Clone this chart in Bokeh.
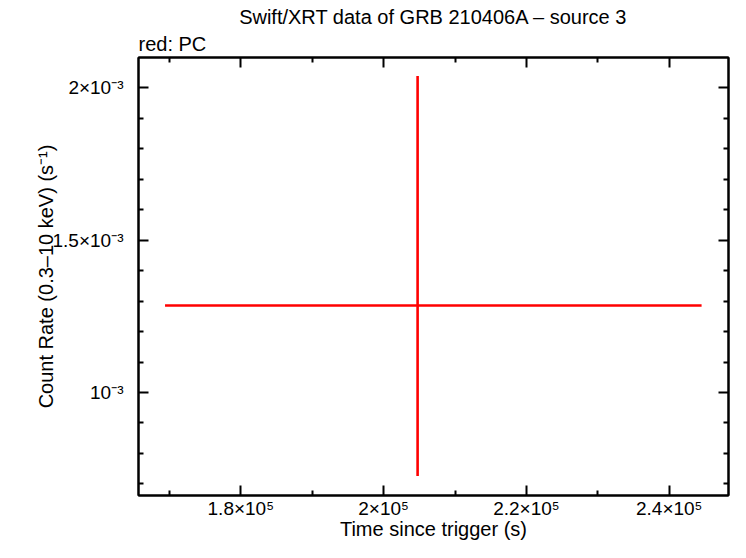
from bokeh.plotting import figure
from bokeh.models import Range1d, FixedTicker, LinearAxis, Title
from bokeh.embed import file_html
from bokeh.resources import INLINE

# data (Swift/XRT PC mode, single bin)
t = [204760.0]
t_lo = [169390.0]
t_hi = [244530.0]
rate = [1.2853e-3]
rate_lo = [0.726e-3]
rate_hi = [2.039e-3]

x_ticks = [180000, 200000, 220000, 240000]
x_labels = ["1.8×10⁵", "2×10⁵", "2.2×10⁵", "2.4×10⁵"]
x_minor = [170000, 190000, 210000, 230000]
y_ticks = [0.001, 0.0015, 0.002]
y_labels = ["10⁻³", "1.5×10⁻³", "2×10⁻³"]
y_minor = [0.0007, 0.0008, 0.0009, 0.0011, 0.0012, 0.0013, 0.0014,
           0.0016, 0.0017, 0.0018, 0.0019]

FONT = "Liberation Sans"
FS = "20px"
TFS = "19px"

p = figure(width=730, height=542, output_backend="svg", toolbar_location=None,
           x_range=Range1d(165673, 248300), y_range=Range1d(0.662e-3, 2.0994e-3),
           min_border_left=138, min_border_right=2, min_border_top=57,
           min_border_bottom=44, title=None)
p.xgrid.visible = False
p.ygrid.visible = False
p.outline_line_color = "black"
p.outline_line_width = 2
p.background_fill_color = "white"
p.border_fill_color = "white"


def style_axis(ax, ticks, minor, labels, show):
    ax.ticker = FixedTicker(ticks=ticks, minor_ticks=minor)
    ax.major_label_overrides = {k: (v if show else "") for k, v in zip(ticks, labels)}
    ax.axis_line_color = "black"
    ax.axis_line_width = 2
    ax.major_tick_line_color = "black"
    ax.major_tick_line_width = 2
    ax.minor_tick_line_color = "black"
    ax.minor_tick_line_width = 2
    ax.major_tick_in = 10
    ax.major_tick_out = 0
    ax.minor_tick_in = 5
    ax.minor_tick_out = 0
    ax.major_label_text_font = FONT
    ax.major_label_text_font_size = TFS if show else "0px"
    ax.major_label_text_color = "black"
    ax.axis_label_text_font = FONT
    ax.axis_label_text_font_size = FS
    ax.axis_label_text_font_style = "normal"
    ax.axis_label_text_color = "black"
    if not show:
        ax.major_label_standoff = 0


xa = p.xaxis[0]
style_axis(xa, x_ticks, x_minor, x_labels, True)
xa.axis_label = "Time since trigger (s)"
xa.major_label_standoff = 2
xa.axis_label_standoff = -4

ya = p.yaxis[0]
style_axis(ya, y_ticks, y_minor, y_labels, True)
ya.axis_label = "Count Rate (0.3–10 keV) (s⁻¹)"
ya.major_label_standoff = 15
ya.axis_label_standoff = -7

ra = LinearAxis()
style_axis(ra, y_ticks, y_minor, y_labels, False)
p.add_layout(ra, "right")
ta = LinearAxis()
style_axis(ta, x_ticks, x_minor, x_labels, False)
p.add_layout(ta, "above")

p.add_layout(Title(text="red: PC", align="left", text_font=FONT, text_font_size=FS,
                   text_font_style="normal", text_color="black", standoff=6), "above")
p.add_layout(Title(text="Swift/XRT data of GRB 210406A – source 3", align="center",
                   text_font=FONT, text_font_size=FS, text_font_style="normal",
                   text_color="black", standoff=0), "above")

p.segment(x0=t_lo, y0=rate, x1=t_hi, y1=rate, line_color="#ff0000", line_width=2.6)
p.segment(x0=t, y0=rate_lo, x1=t, y1=rate_hi, line_color="#ff0000", line_width=2.6)

open("out.html", "w").write(file_html(p, INLINE))
